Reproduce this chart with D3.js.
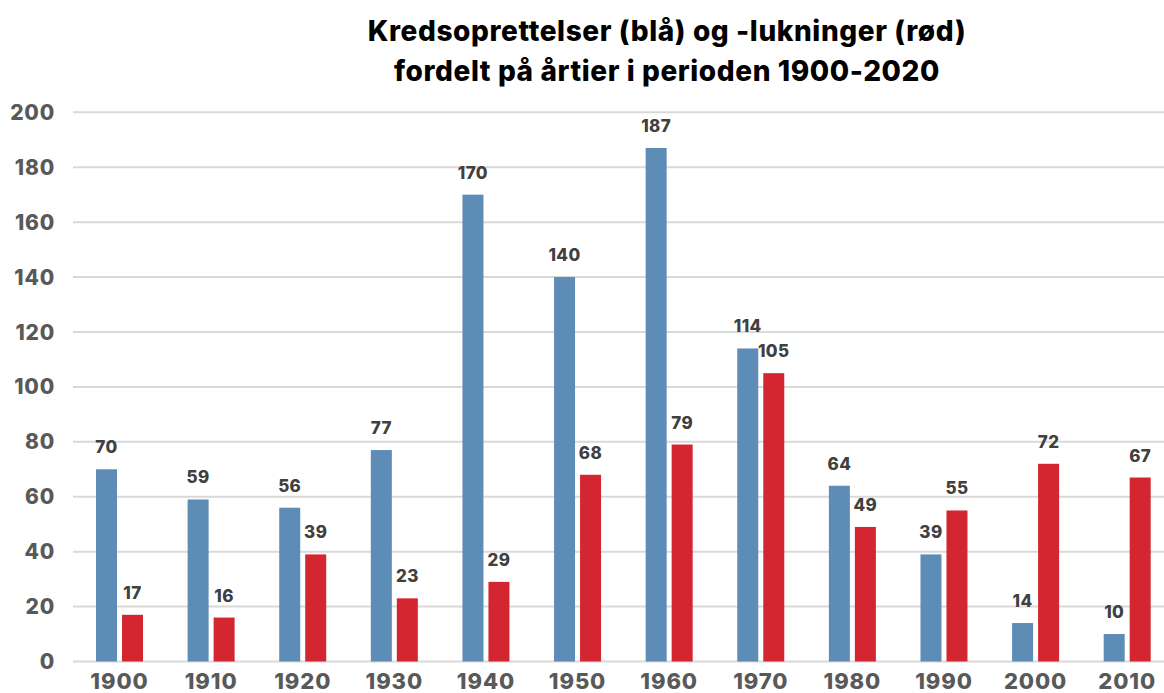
<!DOCTYPE html>
<html>
<head>
<meta charset="utf-8">
<script src="https://cdn.jsdelivr.net/npm/d3@7"></script>
<style>
  body { margin: 0; background: #fff; }
  text { font-family: Inter, "Noto Sans", sans-serif; }
</style>
</head>
<body>
<svg id="chart" width="1164" height="693"></svg>
<script>
// Data
var decades = ["1900", "1910", "1920", "1930", "1940", "1950", "1960", "1970", "1980", "1990", "2000", "2010"];
var openings = [70, 59, 56, 77, 170, 140, 187, 114, 64, 39, 14, 10];
var closings = [17, 16, 39, 23, 29, 68, 79, 105, 49, 55, 72, 67];
var yTicks = [0, 20, 40, 60, 80, 100, 120, 140, 160, 180, 200];
var titleLines = ["Kredsoprettelser (blå) og -lukninger (rød)", "fordelt på årtier i perioden 1900-2020"];

var svg = d3.select("#chart");

var x = d3.scaleBand()
  .domain(decades)
  .range([73.7, 1173]);

var y = d3.scaleLinear()
  .domain([0, 200])
  .range([661.5, 112.3]);

var barW = 21;
var gap = 2.5;

// gridlines
svg.append("g")
  .selectAll("line")
  .data(yTicks)
  .join("line")
  .attr("x1", 73)
  .attr("x2", 1164)
  .attr("y1", d => y(d))
  .attr("y2", d => y(d))
  .attr("stroke", "#d9d9d9")
  .attr("stroke-width", 2);

// y tick labels
svg.append("g")
  .selectAll("text")
  .data(yTicks)
  .join("text")
  .attr("x", 55)
  .attr("y", d => y(d))
  .attr("dy", "0.36em")
  .attr("text-anchor", "end")
  .attr("font-size", 21)
  .attr("font-weight", 800)
  .attr("letter-spacing", 0.8)
  .attr("fill", "#595959")
  .text(d => d);

// x labels
svg.append("g")
  .selectAll("text")
  .data(decades)
  .join("text")
  .attr("x", d => x(d) + x.bandwidth() / 2)
  .attr("y", 689)
  .attr("text-anchor", "middle")
  .attr("font-size", 22)
  .attr("font-weight", 800)
  .attr("letter-spacing", 0.9)
  .attr("fill", "#595959")
  .text(d => d);

var series = [
  { values: openings, color: "#5d8cb6", offset: -gap - barW },
  { values: closings, color: "#d32630", offset: gap }
];

series.forEach(function(s) {
  var g = svg.append("g");
  g.selectAll("rect")
    .data(decades)
    .join("rect")
    .attr("x", (d, i) => x(d) + x.bandwidth() / 2 + s.offset)
    .attr("y", (d, i) => y(s.values[i]))
    .attr("width", barW)
    .attr("height", (d, i) => y(0) - y(s.values[i]))
    .attr("fill", s.color);

  g.selectAll("text")
    .data(decades)
    .join("text")
    .attr("x", (d, i) => x(d) + x.bandwidth() / 2 + s.offset + barW / 2)
    .attr("y", (d, i) => y(s.values[i]) - 16)
    .attr("text-anchor", "middle")
    .attr("font-size", 17)
    .attr("font-weight", 800)
    .attr("letter-spacing", 0.4)
    .attr("fill", "#404040")
    .text((d, i) => s.values[i]);
});

// title
svg.append("g")
  .selectAll("text")
  .data(titleLines)
  .join("text")
  .attr("x", 667)
  .attr("y", (d, i) => 41 + i * 40)
  .attr("text-anchor", "middle")
  .attr("font-size", 28)
  .attr("font-weight", 800)
  .attr("letter-spacing", 0.6)
  .attr("fill", "#000")
  .text(d => d);
</script>
</body>
</html>
